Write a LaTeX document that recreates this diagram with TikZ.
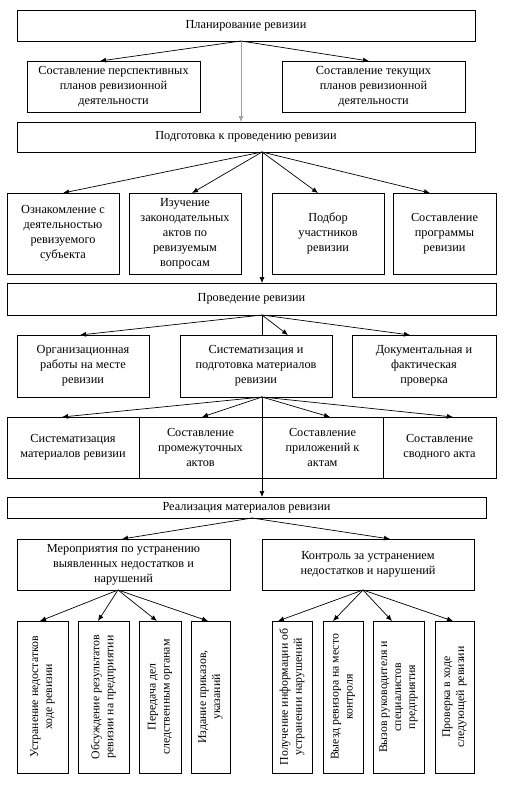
\documentclass[tikz,border=0pt]{standalone}
\usepackage{fontspec}
\setmainfont{Liberation Serif}
\usetikzlibrary{arrows.meta,calc}
\begin{document}
\begin{tikzpicture}[x=1pt,y=-1pt,
  box/.style={draw=black,line width=0.8pt,inner sep=1pt,outer sep=0pt,align=center,
    font=\fontsize{12.3}{15}\selectfont},
  vbox/.style={box,rotate=90,font=\fontsize{11.8}{14}\selectfont},
  arr/.style={line width=0.7pt,-{Latex[length=6pt,width=5pt]}},
  ln/.style={line width=0.7pt}]
\useasboundingbox[fill=white] (0,0) rectangle (505,790);

\node[box,minimum width=458,minimum height=31] (plan) at (246,25.5) {Планирование ревизии};
\node[box,minimum width=173,minimum height=51] (a1) at (113.5,86.5) {Составление перспективных\\планов ревизионной\\деятельности};
\node[box,minimum width=183,minimum height=51] (a2) at (373.5,86.5) {Составление текущих\\планов ревизионной\\деятельности};
\node[box,minimum width=458,minimum height=30] (prep) at (246,137) {Подготовка к проведению ревизии};

\node[box,minimum width=112,minimum height=81] (b1) at (63,233.5) {Ознакомление с\\деятельностью\\ревизуемого\\субъекта};
\node[box,minimum width=112,minimum height=81] (b2) at (185,233.5) {Изучение\\законодательных\\актов по\\ревизуемым\\вопросам};
\node[box,minimum width=112,minimum height=81] (b3) at (328,233.5) {Подбор\\участников\\ревизии};
\node[box,minimum width=103,minimum height=81] (b4) at (444.5,233.5) {Составление\\программы\\ревизии};

\node[box,minimum width=489,minimum height=32] (cond) at (251.5,299) {Проведение ревизии};

\node[box,minimum width=132,minimum height=62] (c1) at (83,366) {Организационная\\работы на месте\\ревизии};
\node[box,minimum width=152,minimum height=62] (c2) at (256,366) {Систематизация и\\подготовка материалов\\ревизии};
\node[box,minimum width=144,minimum height=62] (c3) at (424,366) {Документальная и\\фактическая\\проверка};

\node[box,minimum width=132,minimum height=61] (d1) at (73,447.5) {Систематизация\\материалов ревизии};
\node[box,minimum width=123,minimum height=61] (d2) at (200.5,447.5) {Составление\\промежуточных\\актов};
\node[box,minimum width=121,minimum height=61] (d3) at (322.5,447.5) {Составление\\приложений к\\актам};
\node[box,minimum width=113,minimum height=61] (d4) at (439.5,447.5) {Составление\\сводного акта};

\node[box,minimum width=479,minimum height=21] (real) at (246.5,507.5) {Реализация материалов ревизии};

\node[box,minimum width=213,minimum height=51] (e1) at (123.5,564.5) {Мероприятия по устранению\\выявленных недостатков и\\нарушений};
\node[box,minimum width=212,minimum height=51] (e2) at (368,564.5) {Контроль за устранением\\недостатков и нарушений};

\node[vbox,minimum width=152,minimum height=51] (f1) at (42.5,697) {Устранение недостатков\\ходе ревизии};
\node[vbox,minimum width=152,minimum height=51] (f2) at (103.5,697) {Обсуждение результатов\\ревизии на предприятии};
\node[vbox,minimum width=152,minimum height=42] (f3) at (160,697) {Передача дел\\следственным органам};
\node[vbox,minimum width=152,minimum height=39] (f4) at (210.5,697) {Издание приказов,\\указаний};
\node[vbox,minimum width=152,minimum height=40] (g1) at (292,697) {Получение информации об\\устранении нарушений};
\node[vbox,minimum width=152,minimum height=40] (g2) at (343,697) {Выезд ревизора на место\\контроля};
\node[vbox,minimum width=152,minimum height=51] (g3) at (398.5,697) {Вызов руководителя и\\специалистов\\предприятия};
\node[vbox,minimum width=152,minimum height=39] (g4) at (454.5,697) {Проверка в ходе\\следующей ревизии};

% connectors
\draw[arr] ($(plan.south)+(-5,0)$) -- ($(a1.north)+(-13.5,0)$);
\draw[arr] ($(plan.south)+(-5,0)$) -- ($(a2.north)+(-4.5,0)$);
\draw[arr,draw=gray!75] ($(plan.south)+(-5,0)$) -- ($(prep.north)+(-5,0)$);

\draw[arr] ($(prep.south)+(16,0)$) -- ($(b1.north)+(0,0)$);
\draw[arr] ($(prep.south)+(16,0)$) -- ($(b2.north)+(7,0)$);
\draw[arr] ($(prep.south)+(16,0)$) -- ($(b3.north)+(-10,0)$);
\draw[arr] ($(prep.south)+(16,0)$) -- ($(b4.north)+(-14.5,0)$);
\draw[arr] ($(prep.south)+(16,0)$) -- ($(cond.north)+(10.5,0)$);

\draw[arr] ($(cond.south)+(10.5,0)$) -- ($(c1.north)+(-3,0)$);
\draw[arr] ($(cond.south)+(10.5,0)$) -- ($(c2.north)+(32,0)$);
\draw[arr] ($(cond.south)+(10.5,0)$) -- ($(c3.north)+(-14,0)$);
\draw[ln] ($(cond.south)+(10.5,0)$) -- ($(c2.north)+(6,0)$);

\draw[arr] ($(c2.south)+(6,0)$) -- ($(d1.north)+(-11,0)$);
\draw[arr] ($(c2.south)+(6,0)$) -- ($(d2.north)+(1.5,0)$);
\draw[arr] ($(c2.south)+(6,0)$) -- ($(d3.north)+(7.5,0)$);
\draw[arr] ($(c2.south)+(6,0)$) -- ($(d4.north)+(13.5,0)$);
\draw[arr] ($(c2.south)+(6,0)$) -- ($(real.north)+(15.5,0)$);

\draw[arr] ($(real.south)+(5.5,0)$) -- ($(e1.north)+(-1.5,0)$);
\draw[arr] ($(real.south)+(5.5,0)$) -- ($(e2.north)+(22,0)$);

\draw[arr] ($(e1.south)+(-5.5,0)$) -- ($(f1.east)+(-2.5,0)$);
\draw[arr] ($(e1.south)+(-5.5,0)$) -- ($(f2.east)+(-5.5,0)$);
\draw[arr] ($(e1.south)+(-5.5,0)$) -- ($(f3.east)+(-3,0)$);
\draw[arr] ($(e1.south)+(-5.5,0)$) -- ($(f4.east)+(-2.5,0)$);

\draw[arr] ($(e2.south)+(-5,0)$) -- ($(g1.east)+(-14,0)$);
\draw[arr] ($(e2.south)+(-5,0)$) -- ($(g2.east)+(-10,0)$);
\draw[arr] ($(e2.south)+(-5,0)$) -- ($(g3.east)+(-6.5,0)$);
\draw[arr] ($(e2.south)+(-5,0)$) -- ($(g4.east)+(-1.5,0)$);
\end{tikzpicture}
\end{document}
